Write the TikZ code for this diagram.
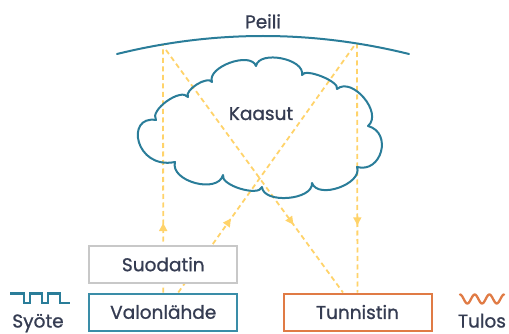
\documentclass[tikz,border=0pt]{standalone}
\usepackage{fontspec}
\setmainfont{Poppins}
\newfontfamily\medfont{Poppins}[FakeBold=1.0]
\usetikzlibrary{arrows.meta,decorations.markings,calc}
\definecolor{tealc}{HTML}{2A7D99}
\definecolor{tealb}{HTML}{3A8DA8}
\definecolor{orangec}{HTML}{E07B45}
\definecolor{grayc}{HTML}{C8C8C8}
\definecolor{beamc}{HTML}{FFD36A}
\definecolor{textc}{HTML}{353C52}
\pgfdeclarelayer{background}
\pgfsetlayers{background,main}
\begin{document}
\begin{tikzpicture}[x=1pt,y=-1pt,
  txt/.style={text=textc, font=\medfont\fontsize{18.5}{22}\selectfont, inner sep=0pt},
  boxnode/.style={draw, fill=white, line width=2pt, minimum width=148pt, minimum height=37pt, inner sep=0pt, txt},
  beam/.style={draw=beamc, line width=1.8pt, dash pattern=on 5pt off 3.5pt},
  midarrow/.style={postaction={decorate}, decoration={markings, mark=at position #1 with {\arrow{Triangle[width=8pt,length=8pt]}}}},
  outline/.style={draw=tealc, line width=2pt, line join=round}]
\useasboundingbox (0,0) rectangle (509,334);

% mirror
\draw[outline, line cap=round] (117,54) .. controls (214.3,30) and (311.7,30) .. (409,54);
\node[txt, anchor=base] (peili) at (263,28.3) {Peili};
\coordinate (ml1) at (163,44.4);
\coordinate (ml2) at (166,50);
\coordinate (mr1) at (357,43.5);
\coordinate (mr2) at (354,46);

% cloud
\draw[outline] (156,120)
  .. controls (149,110.3) and (181,87.3) .. (188,97)
  .. controls (183.8,90.2) and (207.8,75.2) .. (212,82)
  .. controls (206.5,67) and (250.5,51) .. (256,66)
  .. controls (259.2,49.8) and (305.2,58.8) .. (302,75)
  .. controls (305,67.6) and (340,81.6) .. (337,89)
  .. controls (352.3,76.2) and (383.3,113.2) .. (368,126)
  .. controls (392.7,132.6) and (381.7,173.6) .. (357,167)
  .. controls (363,183.8) and (318,199.8) .. (312,183)
  .. controls (313.4,200.2) and (263.4,204.2) .. (262,187)
  .. controls (258.9,197.2) and (219.9,185.2) .. (223,175)
  .. controls (217.8,194.3) and (169.8,181.3) .. (175,162)
  .. controls (135,170) and (125,115) .. cycle;
\node[txt, anchor=base] (kaasut) at (261,120) {Kaasut};

% boxes
\node[boxnode, draw=grayc] (suod) at (163.25,264.25) {Suodatin};
\node[boxnode, draw=tealb] (valo) at (163.25,312) {Valonlähde};
\node[boxnode, draw=orangec] (tunn) at (357.5,312) {Tunnistin};

% beams
\begin{pgfonlayer}{background}
\draw[beam, midarrow=0.28] (valo.north) -- (ml1);
\draw[beam, midarrow=0.30] ($(valo.north)+(15,0)$) -- (mr2);
\draw[beam, midarrow=0.72] (ml2) -- ($(tunn.north)+(-14.5,0)$);
\draw[beam, midarrow=0.73] (mr1) -- (tunn.north);
\end{pgfonlayer}

% input / output signals
\draw[draw=tealc, line width=2.3pt] (10,293.5) -- (24,293.5) -- (24,303) -- (30,303) -- (30,293.5) -- (42,293.5) -- (42,303) -- (48,303) -- (48,293.5) -- (60,293.5) -- (60,303) -- (70,303);
\node[txt, anchor=base] (syote) at (38,327.5) {Syöte};
\draw[draw=orangec, line width=2.3pt, line cap=round] plot[domain=0:3, samples=61, smooth] ({460+\x*14.7}, {299 - 4.5*cos(360*\x)});
\node[txt, anchor=base] (tulos) at (482,327.5) {Tulos};
\end{tikzpicture}
\end{document}
